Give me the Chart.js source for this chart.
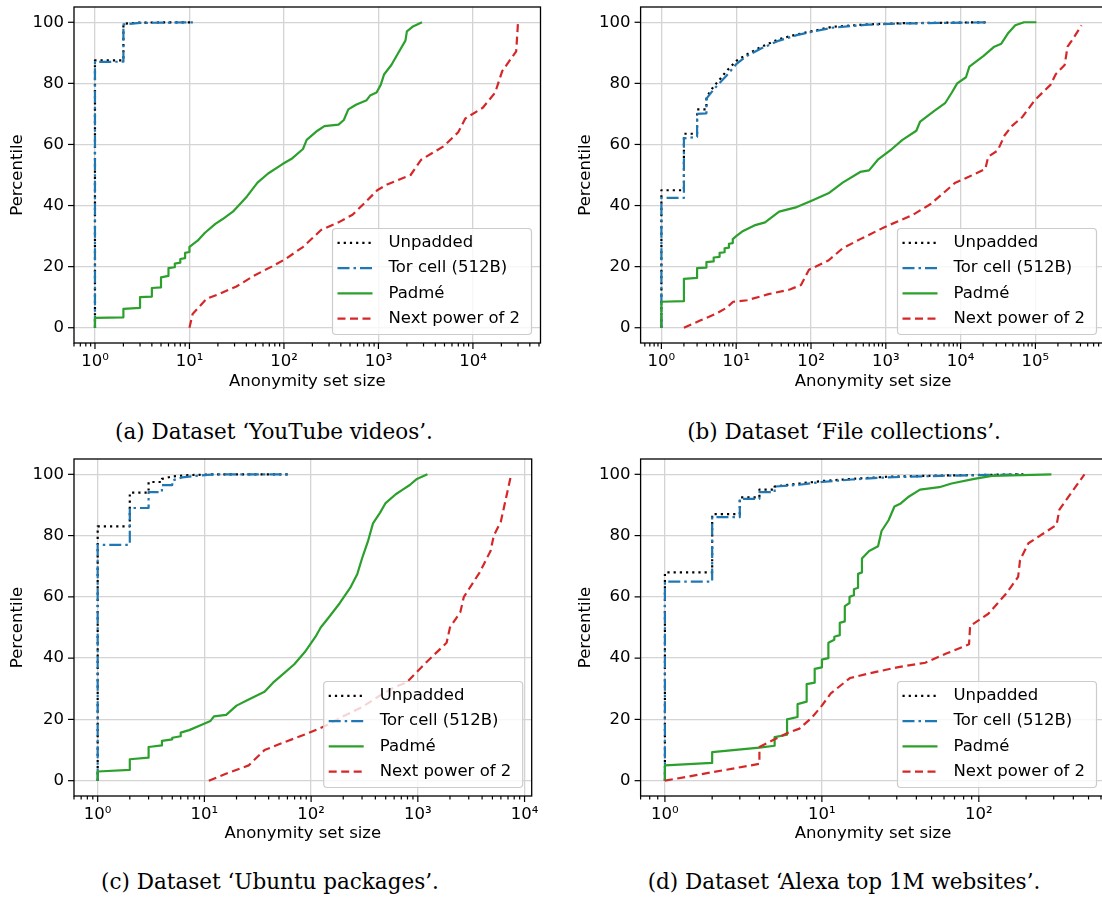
<!DOCTYPE html>
<html>
<head>
<meta charset="utf-8">
<script src="https://cdn.jsdelivr.net/npm/chart.js@4.4.1/dist/chart.umd.min.js"></script>
<style>
  html, body { margin: 0; padding: 0; background: #fff; }
  body { width: 1102px; height: 897px; position: relative; overflow: hidden; }
  .panel { position: absolute; width: 551px; height: 400px; overflow: hidden; }
  .cap { position: absolute; width: 600px; text-align: center; font-family: "DejaVu Serif", serif; font-size: 21.5px; line-height: 22px; color: #000; }
</style>
</head>
<body>
<div class="panel" style="left:0;top:0"><canvas id="cA" width="551" height="400"></canvas></div>
<div class="panel" style="left:551px;top:0"><canvas id="cB" width="565" height="400"></canvas></div>
<div class="panel" style="left:0;top:452px"><canvas id="cC" width="551" height="400"></canvas></div>
<div class="panel" style="left:551px;top:452px"><canvas id="cD" width="565" height="400"></canvas></div>
<div class="cap" style="left:-26px;top:421px">(a) Dataset ‘YouTube videos’.</div>
<div class="cap" style="left:544px;top:421px">(b) Dataset ‘File collections’.</div>
<div class="cap" style="left:-30px;top:871px">(c) Dataset ‘Ubuntu packages’.</div>
<div class="cap" style="left:544px;top:871px">(d) Dataset ‘Alexa top 1M websites’.</div>
<script>
const seriesNames = ['Unpadded', 'Tor cell (512B)', 'Padmé', 'Next power of 2'];
const yTicks = [0, 20, 40, 60, 80, 100];
const SUP = ['⁰', '¹', '²', '³', '⁴', '⁵', '⁶'];

// (a) YouTube videos
const aUnpX = [1, 1, 2, 2, 3, 11];
const aUnpY = [0, 87.5, 87.5, 99.5, 99.9, 100];
const aTorX = [1, 1, 2, 2, 3, 11];
const aTorY = [0, 87, 87.1, 99.3, 99.8, 100];
const aPadX = [1, 1, 2, 2, 3, 3, 4, 4, 5, 5, 6, 6, 7, 7, 8, 8, 9, 9, 10, 10, 12.2, 14.5, 18.8, 22.3, 28.8, 40.6, 52.5, 68, 95.7, 123, 159, 174, 226, 268, 378, 430, 480, 578, 750, 815, 955, 1057, 1150, 1370, 1625, 1930, 2000, 2290, 2890];
const aPadY = [0, 3.2, 3.4, 6.2, 6.5, 10, 10.2, 13, 13.2, 16.5, 17, 19.5, 19.8, 21, 21.3, 22.5, 22.8, 24.5, 24.8, 26.5, 28.5, 31, 34, 35.5, 38, 43, 47.5, 50.5, 53.5, 55.5, 58.5, 61.5, 64.5, 66, 66.5, 68, 71.5, 73, 74.5, 76, 77, 79.5, 83, 86, 90, 94, 97, 98.5, 100];
const aNextX = [10, 10.8, 15.2, 20.5, 31.4, 48, 74, 104, 160, 247, 378, 532, 750, 970, 1255, 2190, 2835, 4950, 6980, 8300, 12700, 17200, 20400, 28700, 30000];
const aNextY = [0, 4.5, 9.5, 11, 13.5, 17, 20, 22.5, 26.5, 32, 34.5, 37, 41.5, 45, 47, 50, 55, 59.5, 64, 68.5, 72, 77, 84, 90.5, 100];

// (b) File collections
const bUnpX = [1, 1, 2, 2, 3, 3, 4, 4, 5, 5.9, 7.4, 10.2, 14, 21.8, 37.5, 64.5, 100, 190, 565, 1670, 22600];
const bUnpY = [0, 45, 45, 63.5, 63.5, 71.5, 71.5, 75.5, 79, 81, 84, 87.5, 89.5, 92, 94.5, 96, 97, 98.5, 99.3, 99.7, 100];
const bTorX = [1, 1, 2, 2, 3, 3, 4, 4, 5, 7.4, 10.2, 14, 21.8, 37.5, 64.5, 100, 190, 565, 1670, 22600];
const bTorY = [0, 42.5, 42.5, 62, 62.5, 70, 70.2, 75, 78, 82.5, 86.5, 89, 91.5, 94, 95.8, 96.8, 98.2, 99.2, 99.6, 100];
const bPadX = [1, 1, 2, 2, 3, 3, 4, 4, 5, 5, 6, 6, 7, 7, 8, 8, 9, 9, 10, 12, 17.5, 24.3, 37.5, 64.5, 100, 171, 265, 455, 597, 783, 1205, 1670, 2560, 2880, 4450, 6200, 7640, 9000, 11800, 13100, 20300, 28200, 35000, 43400, 53800, 70500, 103000];
const bPadY = [0, 8.5, 8.7, 16, 16.3, 19.5, 19.7, 21.5, 21.7, 23, 23.2, 24.5, 24.7, 26, 26.2, 27.5, 27.7, 29, 30, 31.5, 33.5, 34.5, 38, 39.5, 41.5, 44, 47.5, 51, 51.5, 55, 58.5, 61.5, 64.5, 67.5, 71, 73.5, 77, 80, 82, 85.5, 89, 92, 93, 96.5, 99, 100, 100];
const bNextX = [2, 3.4, 5.3, 7.4, 9.1, 14, 27, 52, 73.5, 94, 171, 265, 455, 973, 2315, 3980, 5520, 8500, 13100, 21400, 23400, 31300, 38800, 48300, 67000, 98000, 159000, 187000, 246000, 269000, 306000, 414000];
const bNextY = [0, 2.5, 4.5, 6.5, 8.5, 9, 11, 12.5, 14, 19, 22, 26, 29, 33, 37, 40.5, 43.5, 47.5, 49.5, 52, 56, 58, 63, 66, 69, 74.5, 79.5, 83, 86, 92, 94, 99];

// (c) Ubuntu packages
const cUnpX = [1, 1, 2, 2, 3, 3, 4, 4, 5, 6.7, 12.3, 62];
const cUnpY = [0, 83, 83, 94, 94, 97.5, 97.5, 98.5, 99.3, 99.7, 100, 100];
const cTorX = [1, 1, 2, 2, 3, 3, 4, 4, 5, 5, 6.2, 9, 12.3, 62];
const cTorY = [0, 77, 77, 89, 89, 94.2, 94.2, 96.5, 96.5, 98, 99, 99.6, 100, 100];
const cPadX = [1, 1, 2, 2, 3, 3, 4, 4, 5, 5, 6, 6, 7.2, 9.1, 11.4, 12.3, 16, 20, 26, 36.6, 44, 55.5, 69.6, 87.3, 110, 123, 148, 186, 233, 271, 303, 340, 380, 443, 496, 621, 722, 841, 980, 1230];
const cPadY = [0, 3, 3.5, 7, 7.5, 11, 11.5, 13, 13.5, 14, 14.5, 15.7, 16.5, 18, 19.5, 21, 21.5, 24.5, 26.5, 29, 32, 35, 38, 42, 47, 50, 53.5, 58, 63, 67.5, 73, 78, 84, 87.5, 90.5, 93.5, 95, 96.5, 98.5, 100];
const cNextX = [11, 16.6, 26, 36.6, 55.5, 94, 138, 200, 300, 450, 600, 780, 980, 1230, 1860, 2000, 2500, 2700, 3800, 4800, 5150, 5990, 7500];
const cNextY = [0, 2.5, 5, 10, 12.5, 15.5, 18, 21, 24, 28, 30.5, 32, 35.5, 39, 45, 50, 55, 60, 68, 75, 80, 84.5, 100];

// (d) Alexa top 1M websites
const dUnpX = [1, 1, 2, 2, 3, 3, 4, 4, 5, 5, 7.2, 10, 15.5, 25.9, 56, 192];
const dUnpY = [0, 68, 68, 87, 87, 92.5, 92.5, 95, 95, 96, 97, 97.8, 98.5, 99.2, 99.6, 100];
const dTorX = [1, 1, 2, 2, 3, 3, 4, 4, 5, 5, 7.2, 10, 15.5, 25.9, 56, 192];
const dTorY = [0, 65, 65, 86, 86, 92, 92, 94.2, 94.2, 96, 96.6, 97.5, 98.3, 99, 99.5, 100];
const dPadX = [1, 1, 2, 2, 4, 5, 5, 6, 6, 7, 7, 8, 8, 9, 9, 10, 10, 11, 11, 12, 12, 13, 13, 14, 14, 15, 15, 16, 16, 17, 17, 18, 18, 20, 22.8, 24, 26.6, 29, 31.8, 35.3, 42.2, 56, 67, 93.5, 121, 290];
const dPadY = [0, 5, 5.8, 9.3, 10.8, 11.4, 14.2, 15, 20, 20.8, 25, 25.8, 31.5, 32, 36.5, 37, 39.5, 40, 45, 46, 47, 47.5, 51.5, 52, 57, 58, 60, 60.5, 62.5, 63, 67.5, 68, 72.5, 75, 76.5, 81.5, 85, 89.5, 90.5, 92.5, 95, 95.8, 97, 98.5, 99.5, 100];
const dNextX = [1, 4, 4, 5, 6, 7.2, 8.6, 10, 11.4, 15.1, 20, 30.2, 45.6, 62, 86.6, 88, 115, 149, 178, 183, 207, 313, 326, 471];
const dNextY = [0, 5.5, 11, 13.5, 15.5, 17, 20.5, 24.5, 28.5, 33.5, 35, 37, 38.5, 41.5, 44.5, 50.5, 54.5, 61, 66.5, 72, 77.5, 83.5, 88.5, 100];

const styles = [
  { color: '#000000', dash: [2.2, 4] },
  { color: '#1f77b4', dash: [12, 4, 2.5, 4] },
  { color: '#2ca02c', dash: [] },
  { color: '#d62728', dash: [8, 4.5] }
];

const panels = [
  { canvas: 'cA', area: { l: 74, r: 540.5, t: 7, b: 343 }, logMin: -0.217, logMax: 4.715, yTitlePad: 7.7,
    xs: [aUnpX, aTorX, aPadX, aNextX], ys: [aUnpY, aTorY, aPadY, aNextY] },
  { canvas: 'cB', area: { l: 89.6, r: 554.5, t: 7, b: 343 }, logMin: -0.278, logMax: 5.937, yTitlePad: 24.4,
    xs: [bUnpX, bTorX, bPadX, bNextX], ys: [bUnpY, bTorY, bPadY, bNextY] },
  { canvas: 'cC', area: { l: 74, r: 531.7, t: 7, b: 344 }, logMin: -0.19, logMax: 4.067, yTitlePad: 7.7,
    xs: [cUnpX, cTorX, cPadX, cNextX], ys: [cUnpY, cTorY, cPadY, cNextY] },
  { canvas: 'cD', area: { l: 89.6, r: 554.5, t: 7, b: 344 }, logMin: -0.131, logMax: 2.807, yTitlePad: 24.4,
    xs: [dUnpX, dTorX, dPadX, dNextX], ys: [dUnpY, dTorY, dPadY, dNextY] }
];

const font = { family: 'DejaVu Sans', size: 16.5 };

function pts(xs, ys) { return xs.map((x, i) => ({ x, y: ys[i] })); }

function logTicks(min, max) {
  const out = [];
  for (let e = Math.floor(Math.log10(min)); e <= Math.ceil(Math.log10(max)); e++) {
    for (let k = 1; k <= 9; k++) {
      const v = k * Math.pow(10, e);
      if (v >= min && v <= max) out.push({ value: v, major: k === 1 });
    }
  }
  return out;
}

// box round the axes plus tick marks (major and minor)
const frame = {
  id: 'frame',
  afterDatasetsDraw(chart) {
    const { ctx, chartArea: a, scales: { x, y } } = chart;
    ctx.save();
    ctx.strokeStyle = '#000';
    ctx.lineWidth = 1.2;
    logTicks(x.min, x.max).forEach(t => {
      const px = x.getPixelForValue(t.value);
      ctx.beginPath(); ctx.moveTo(px, a.bottom); ctx.lineTo(px, a.bottom + (t.major ? 6 : 3.5)); ctx.stroke();
    });
    yTicks.forEach(v => {
      const py = y.getPixelForValue(v);
      ctx.beginPath(); ctx.moveTo(a.left - 6, py); ctx.lineTo(a.left, py); ctx.stroke();
    });
    ctx.lineWidth = 1.3;
    ctx.strokeRect(a.left, a.top, a.right - a.left, a.bottom - a.top);
    ctx.restore();
  }
};

// legend sitting inside the axes, lower right
const legendBox = {
  id: 'legendBox',
  afterDraw(chart) {
    const { ctx, chartArea: a } = chart;
    const w = 199, h = 106;
    const bx = a.right - 9 - w, by = a.bottom - 8.5 - h;
    ctx.save();
    ctx.beginPath();
    ctx.roundRect(bx, by, w, h, 3.5);
    ctx.fillStyle = 'rgba(255,255,255,0.8)';
    ctx.fill();
    ctx.strokeStyle = '#cccccc';
    ctx.lineWidth = 1.2;
    ctx.stroke();
    ctx.font = '16.5px "DejaVu Sans"';
    ctx.textBaseline = 'middle';
    chart.data.datasets.forEach((ds, i) => {
      const ry = by + 14.3 + i * 25.3;
      ctx.beginPath();
      ctx.setLineDash(ds.borderDash);
      ctx.strokeStyle = ds.borderColor;
      ctx.lineWidth = ds.borderWidth;
      ctx.moveTo(bx + 5, ry); ctx.lineTo(bx + 40, ry);
      ctx.stroke();
      ctx.setLineDash([]);
      ctx.fillStyle = '#000';
      ctx.fillText(ds.label, bx + 56, ry);
    });
    ctx.restore();
  }
};

panels.forEach(p => {
  const el = document.getElementById(p.canvas);
  const W = el.width, H = el.height;
  const min = Math.pow(10, p.logMin), max = Math.pow(10, p.logMax);
  new Chart(el, {
    type: 'line',
    data: {
      datasets: p.xs.map((xs, i) => ({
        label: seriesNames[i],
        data: pts(xs, p.ys[i]),
        borderColor: styles[i].color,
        borderDash: styles[i].dash,
        borderWidth: 2.2,
        borderJoinStyle: 'round',
        pointRadius: 0,
        tension: 0,
        fill: false,
        order: 4 - i
      }))
    },
    options: {
      responsive: false,
      animation: false,
      events: [],
      layout: { padding: { left: 0, top: p.area.t, right: W - p.area.r, bottom: 0 } },
      plugins: { legend: { display: false }, tooltip: { enabled: false } },
      scales: {
        x: {
          type: 'logarithmic', min, max,
          afterFit: s => { s.height = H - p.area.b; s.paddingLeft = 0; s.paddingRight = 0; },
          afterBuildTicks: s => { s.ticks = logTicks(min, max).filter(t => t.major); },
          ticks: { autoSkip: false, maxRotation: 0, padding: 8.5, font, color: '#000',
            callback: v => '10' + SUP[Math.round(Math.log10(v))] },
          grid: { color: '#d4d4d4', lineWidth: 1.3, drawTicks: false },
          border: { display: false },
          title: { display: true, text: 'Anonymity set size', font, color: '#000', padding: { top: 0, bottom: 8.1 } }
        },
        y: {
          type: 'linear', min: -5, max: 105,
          afterFit: s => { s.width = p.area.l; s.paddingTop = 0; s.paddingBottom = 0; },
          afterBuildTicks: s => { s.ticks = yTicks.map(v => ({ value: v })); },
          ticks: { padding: 10, font, color: '#000' },
          grid: { color: '#d4d4d4', lineWidth: 1.3, drawTicks: false },
          border: { display: false },
          title: { display: true, text: 'Percentile', font, color: '#000', padding: { top: p.yTitlePad, bottom: 0 } }
        }
      }
    },
    plugins: [frame, legendBox]
  });
});
</script>
</body>
</html>
